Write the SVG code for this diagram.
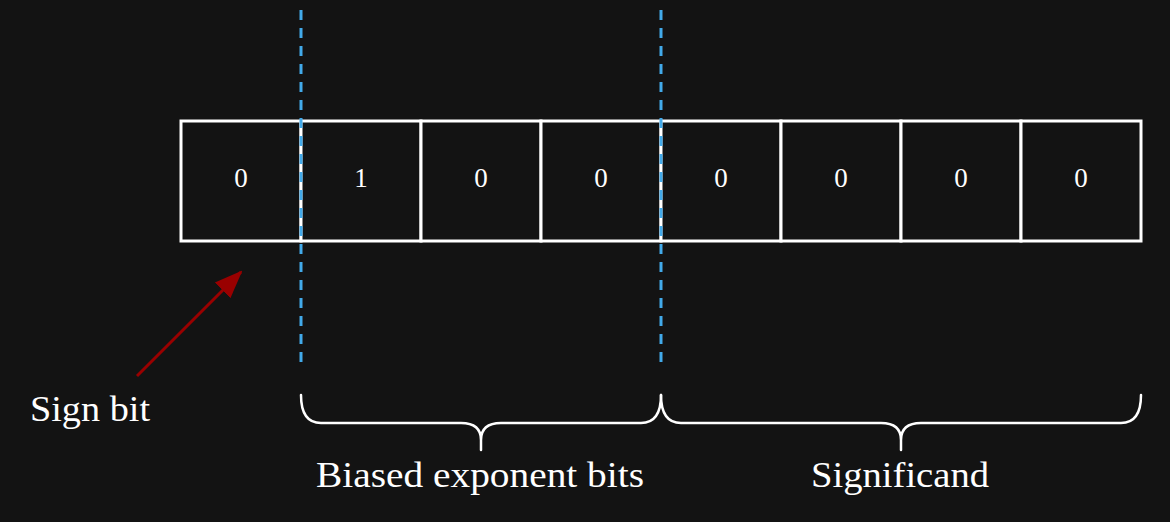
<svg xmlns="http://www.w3.org/2000/svg" width="1170" height="522" viewBox="0 0 1170 522">
<style>
.cell{fill:#131313;stroke:#ffffff;stroke-width:3}
.digit{font-family:"Liberation Serif","DejaVu Serif",serif;font-size:27px;fill:#ffffff;text-anchor:middle}
.label{font-family:"Liberation Serif","DejaVu Serif",serif;font-size:36px;fill:#ffffff}
.divider{stroke:#42aaea;stroke-width:3;stroke-dasharray:10 8;fill:none}
.brace{stroke:#ffffff;stroke-width:2.5;fill:none;stroke-linecap:round}
.arrow{stroke:#990000;stroke-width:3;fill:none}
</style>
<defs>
<marker id="arrowhead" markerWidth="28" markerHeight="28" viewBox="0 0 28 28" refX="26" refY="14" orient="auto" markerUnits="userSpaceOnUse">
<path d="M0,3 L28,14 L0,25 Z" fill="#990000"/>
</marker>
</defs>
<rect width="1170" height="522" fill="#131313"/>
<g id="bits">
<g id="bit0"><rect class="cell" x="181" y="121" width="120" height="120"/><text class="digit" x="241" y="187">0</text></g>
<g id="bit1"><rect class="cell" x="301" y="121" width="120" height="120"/><text class="digit" x="361" y="187">1</text></g>
<g id="bit2"><rect class="cell" x="421" y="121" width="120" height="120"/><text class="digit" x="481" y="187">0</text></g>
<g id="bit3"><rect class="cell" x="541" y="121" width="120" height="120"/><text class="digit" x="601" y="187">0</text></g>
<g id="bit4"><rect class="cell" x="661" y="121" width="120" height="120"/><text class="digit" x="721" y="187">0</text></g>
<g id="bit5"><rect class="cell" x="781" y="121" width="120" height="120"/><text class="digit" x="841" y="187">0</text></g>
<g id="bit6"><rect class="cell" x="901" y="121" width="120" height="120"/><text class="digit" x="961" y="187">0</text></g>
<g id="bit7"><rect class="cell" x="1021" y="121" width="120" height="120"/><text class="digit" x="1081" y="187">0</text></g>
</g>
<g id="connectors">
<line class="divider" x1="301" y1="10" x2="301" y2="362"/>
<line class="divider" x1="661" y1="10" x2="661" y2="362"/>
<line class="arrow" x1="137" y1="376" x2="241" y2="272" marker-end="url(#arrowhead)"/>
<path class="brace" d="M301,395 Q301,423 321,423 L461,423 Q481,423 481,440 L481,450 M481,440 Q481,423 501,423 L641,423 Q661,423 661,395"/>
<path class="brace" d="M661,395 Q661,423 681,423 L881,423 Q901,423 901,440 L901,450 M901,440 Q901,423 921,423 L1121,423 Q1141,423 1141,395"/>
</g>
<g id="sign-label"><text class="label" x="30" y="421" textLength="120" lengthAdjust="spacingAndGlyphs">Sign bit</text></g>
<g id="exponent-label"><text class="label" x="316" y="487" textLength="328" lengthAdjust="spacingAndGlyphs">Biased exponent bits</text></g>
<g id="significand-label"><text class="label" x="811" y="487" textLength="178" lengthAdjust="spacingAndGlyphs">Significand</text></g>
</svg>
